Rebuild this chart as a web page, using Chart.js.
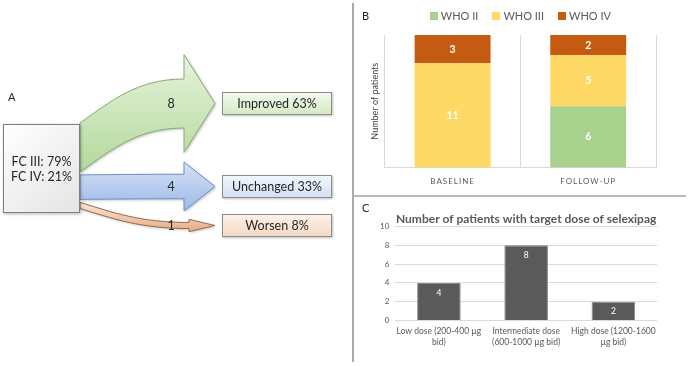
<!DOCTYPE html>
<html>
<head>
<meta charset="utf-8">
<script src="https://cdn.jsdelivr.net/npm/chart.js@4.4.1/dist/chart.umd.min.js"></script>
<style>
  body { margin: 0; background: #fff; font-family: Lato, sans-serif; }
  #page { position: relative; width: 688px; height: 367px; overflow: hidden; }
  canvas { position: absolute; }
  .tag { position: absolute; font-size: 11px; color: #262626; line-height: 12px; }
  .vline { position: absolute; left: 352px; top: 3px; width: 2px; height: 359px; background: #a9a9a9; }
  .hline { position: absolute; left: 353px; top: 195px; width: 333px; height: 2px; background: #b8b8b8; }
  #stageLegend { position: absolute; top: 10px; display: flex; justify-content: center; gap: 14px;
    font-size: 11px; line-height: 12px; color: #595959; }
  #stageLegend span { display: flex; align-items: center; }
  #stageLegend i { display: inline-block; width: 8px; height: 8px; margin-right: 3px; }
</style>
</head>
<body>
<div id="page">
  <canvas id="flowChart" width="352" height="367" style="left:0;top:0"></canvas>
  <canvas id="stageChart" width="333" height="195" style="left:355px;top:0"></canvas>
  <canvas id="doseChart" width="333" height="171" style="left:355px;top:196px"></canvas>
  <div class="vline"></div>
  <div class="hline"></div>
  <div id="stageLegend"></div>
  <span class="tag" style="left:8px;top:91px">A</span>
  <span class="tag" style="left:362px;top:10px">B</span>
  <span class="tag" style="left:362px;top:202px">C</span>
</div>
<script>
// Panel A: change in functional class
const flowSource = ['FC III: 79%', 'FC IV: 21%'];
const flowTargets = ['Improved 63%', 'Unchanged 33%', 'Worsen 8%'];
const flowCounts = [8, 4, 1];

// Panel B: WHO class at baseline and follow-up
const stages = ['BASELINE', 'FOLLOW-UP'];
const whoII = [0, 6];
const whoIII = [11, 5];
const whoIV = [3, 2];

// Panel C: target dose
const doseLabels = [['Low dose (200-400 µg', 'bid)'], ['Intermediate dose', '(600-1000 µg bid)'], ['High dose (1200-1600', 'µg bid)']];
const dosePatients = [4, 8, 2];
const doseTicks = [0, 2, 4, 6, 8, 10];

const GREY = '#595959';
const FONT = 'Lato, sans-serif';

const stageTotals = stages.map((_, i) => whoII[i] + whoIII[i] + whoIV[i]);
const toShare = arr => arr.map((v, i) => v / stageTotals[i] * 100);

// writes the count on each bar segment
const barLabels = {
  id: 'barLabels',
  afterDatasetsDraw(chart, args, opts) {
    const ctx = chart.ctx;
    ctx.save();
    ctx.font = opts.font;
    ctx.fillStyle = opts.color;
    ctx.textAlign = 'center';
    ctx.textBaseline = 'middle';
    chart.data.datasets.forEach((ds, i) => {
      chart.getDatasetMeta(i).data.forEach((bar, j) => {
        const v = (ds.counts || ds.data)[j];
        if (!v) return;
        const y = opts.atTop ? bar.y + opts.offset : (bar.y + bar.base) / 2;
        ctx.fillText(v, bar.x, y);
      });
    });
    ctx.restore();
  }
};

// letter spaced category labels (BASELINE / FOLLOW-UP)
const spacedTicks = {
  id: 'spacedTicks',
  beforeDraw(chart) {
    const s = chart.scales.x;
    if (s._spaced) return;
    const orig = s.drawLabels.bind(s);
    s.drawLabels = area => {
      chart.ctx.save();
      chart.ctx.letterSpacing = '1px';
      orig(area);
      chart.ctx.restore();
    };
    s._spaced = true;
  }
};

// flow arrows: thickness comes from the y scale (patients)
const arrowFill = [['#e6f3dc', '#b3d99b'], ['#d6e2f6', '#9cb9e6'], ['#fbe6d6', '#e3ad86']];
const arrowLine = ['#86ad70', '#6d8fc6', '#9a6b4b'];
const boxFill = [['#f4faef', '#d3eac3'], ['#f3f7fd', '#d1e0f3'], ['#fef3eb', '#f4d8c2']];

function arrowPath(ctx, x0, top0, x1, yc, t, tipX) {
  const bot0 = top0 + t;
  const top1 = yc - t / 2, bot1 = yc + t / 2;
  const dx = x1 - x0;
  ctx.beginPath();
  ctx.moveTo(x0, top0);
  ctx.bezierCurveTo(x0 + dx * 0.3, top0 + (top1 - top0) * 0.5, x0 + dx * 0.55, top1, x1, top1);
  ctx.lineTo(x1, yc - t);
  ctx.lineTo(tipX, yc);
  ctx.lineTo(x1, yc + t);
  ctx.lineTo(x1, bot1);
  ctx.bezierCurveTo(x0 + dx * 0.55, bot1, x0 + dx * 0.3, bot0 + (bot1 - bot0) * 0.5, x0, bot0);
  ctx.closePath();
}

const flowPlugin = {
  id: 'flow',
  afterDraw(chart) {
    const ctx = chart.ctx;
    const y = chart.scales.y;
    const unit = Math.abs(y.getPixelForValue(1) - y.getPixelForValue(0));
    const src = { x: 3, y: 124, w: 77, h: 89 };
    const tgtX = 222, tgtW = 110, tgtH = 23;
    const tgtTop = [92, 175, 214];
    const tipX = 215;

    let top = src.y - 1;
    flowCounts.forEach((n, i) => {
      const t = n * unit;
      const yc = tgtTop[i] + tgtH / 2;
      const head = t > 20 ? 31 : 26;
      ctx.save();
      arrowPath(ctx, src.x + src.w, top, tipX - head, yc, t, tipX);
      const g = ctx.createLinearGradient(0, Math.min(top, yc - t), 0, Math.max(top + t, yc + t));
      g.addColorStop(0, arrowFill[i][0]);
      g.addColorStop(1, arrowFill[i][1]);
      ctx.shadowColor = 'rgba(0,0,0,0.3)';
      ctx.shadowBlur = 3;
      ctx.shadowOffsetX = 1;
      ctx.shadowOffsetY = 1;
      ctx.fillStyle = g;
      ctx.fill();
      ctx.shadowColor = 'transparent';
      ctx.strokeStyle = arrowLine[i];
      ctx.lineWidth = 1;
      ctx.stroke();
      ctx.restore();

      ctx.save();
      ctx.font = '12.5px ' + FONT;
      ctx.fillStyle = '#262626';
      ctx.textAlign = 'center';
      ctx.textBaseline = 'middle';
      ctx.fillText(n, 171, yc + 0.5);
      ctx.restore();

      // target box
      ctx.save();
      const bg = ctx.createLinearGradient(0, tgtTop[i], 0, tgtTop[i] + tgtH);
      bg.addColorStop(0, boxFill[i][0]);
      bg.addColorStop(1, boxFill[i][1]);
      ctx.shadowColor = 'rgba(0,0,0,0.25)';
      ctx.shadowBlur = 2;
      ctx.shadowOffsetX = 1;
      ctx.shadowOffsetY = 1;
      ctx.fillStyle = bg;
      ctx.fillRect(tgtX, tgtTop[i], tgtW, tgtH);
      ctx.shadowColor = 'transparent';
      ctx.strokeStyle = '#8c8c8c';
      ctx.strokeRect(tgtX + 0.5, tgtTop[i] + 0.5, tgtW - 1, tgtH - 1);
      ctx.font = '12.5px ' + FONT;
      ctx.fillStyle = '#262626';
      ctx.textAlign = 'center';
      ctx.textBaseline = 'middle';
      ctx.fillText(flowTargets[i], tgtX + tgtW / 2, tgtTop[i] + tgtH / 2 + 0.5);
      ctx.restore();

      top += t + 3;
    });

    // source box
    ctx.save();
    const sg = ctx.createLinearGradient(src.x, src.y, src.x + src.w, src.y + src.h);
    sg.addColorStop(0, '#ffffff');
    sg.addColorStop(1, '#e4e4e4');
    ctx.shadowColor = 'rgba(0,0,0,0.3)';
    ctx.shadowBlur = 3;
    ctx.shadowOffsetX = 1;
    ctx.shadowOffsetY = 1;
    ctx.fillStyle = sg;
    ctx.fillRect(src.x, src.y, src.w, src.h);
    ctx.shadowColor = 'transparent';
    ctx.strokeStyle = '#7f7f7f';
    ctx.strokeRect(src.x + 0.5, src.y + 0.5, src.w - 1, src.h - 1);
    ctx.font = '12.5px ' + FONT;
    ctx.fillStyle = '#262626';
    ctx.textAlign = 'center';
    ctx.textBaseline = 'middle';
    flowSource.forEach((s, k) => ctx.fillText(s, src.x + src.w / 2, 162 + k * 15));
    ctx.restore();
  }
};

new Chart(document.getElementById('flowChart'), {
  type: 'bar',
  data: { labels: flowTargets, datasets: [] },
  options: {
    responsive: false,
    animation: false,
    layout: { padding: 0 },
    plugins: { legend: { display: false }, tooltip: { enabled: false } },
    scales: {
      x: { display: false },
      y: { type: 'linear', display: false, min: 0, max: 60 }
    }
  },
  plugins: [flowPlugin]
});

const stageChart = new Chart(document.getElementById('stageChart'), {
  type: 'bar',
  data: {
    labels: stages,
    datasets: [
      { label: 'WHO II', data: toShare(whoII), counts: whoII, backgroundColor: '#a9d18e' },
      { label: 'WHO III', data: toShare(whoIII), counts: whoIII, backgroundColor: '#ffd966' },
      { label: 'WHO IV', data: toShare(whoIV), counts: whoIV, backgroundColor: '#c55a11' }
    ]
  },
  options: {
    responsive: false,
    animation: false,
    barPercentage: 0.56,
    categoryPercentage: 1,
    layout: { padding: { left: 11, right: 32, top: 35, bottom: 0 } },
    plugins: {
      legend: { display: false },
      tooltip: { enabled: false },
      barLabels: { font: 'bold 10.5px ' + FONT, color: '#ffffff' }
    },
    scales: {
      x: {
        stacked: true,
        grid: { offset: true, color: '#d9d9d9', drawTicks: false },
        border: { color: '#d9d9d9' },
        ticks: { color: GREY, padding: 9, font: { family: FONT, size: 8 } }
      },
      y: {
        stacked: true,
        min: 0,
        max: 100,
        grid: { display: false, drawTicks: false },
        border: { color: '#d9d9d9' },
        ticks: { display: false },
        title: { display: true, text: 'Number of patients', color: '#404040', font: { family: FONT, size: 9 } }
      }
    }
  },
  plugins: [barLabels, spacedTicks]
});

// legend built from the datasets, centred over the plot area
const legendBox = document.getElementById('stageLegend');
legendBox.innerHTML = stageChart.data.datasets
  .map(ds => `<span><i style="background:${ds.backgroundColor}"></i>${ds.label}</span>`)
  .join('');
legendBox.style.left = (355 + stageChart.chartArea.left) + 'px';
legendBox.style.width = stageChart.chartArea.width + 'px';

new Chart(document.getElementById('doseChart'), {
  type: 'bar',
  data: {
    labels: doseLabels,
    datasets: [{
      label: 'Patients',
      data: dosePatients,
      backgroundColor: '#5a5a5a',
      borderColor: '#8a8a8a',
      borderWidth: 1
    }]
  },
  options: {
    responsive: false,
    animation: false,
    barPercentage: 0.5,
    categoryPercentage: 1,
    layout: { padding: { left: 19, right: 31, top: 0, bottom: 14 } },
    plugins: {
      legend: { display: false },
      tooltip: { enabled: false },
      title: {
        display: true,
        fullSize: false,
        text: 'Number of patients with target dose of selexipag',
        color: GREY,
        font: { family: FONT, size: 12, weight: 'bold' },
        padding: { top: 16, bottom: 0 }
      },
      barLabels: { font: '8.5px ' + FONT, color: '#ffffff', atTop: true, offset: 10 }
    },
    scales: {
      x: {
        grid: { display: false, drawTicks: false },
        border: { display: false },
        ticks: { color: GREY, padding: 6, maxRotation: 0, autoSkip: false, font: { family: FONT, size: 8.5 } }
      },
      y: {
        min: 0,
        max: 10,
        afterBuildTicks: scale => { scale.ticks = doseTicks.map(v => ({ value: v })); },
        grid: { color: '#d9d9d9', drawTicks: false },
        border: { display: false },
        ticks: { color: GREY, padding: 6, font: { family: FONT, size: 8 } }
      }
    }
  },
  plugins: [barLabels]
});
</script>
</body>
</html>
